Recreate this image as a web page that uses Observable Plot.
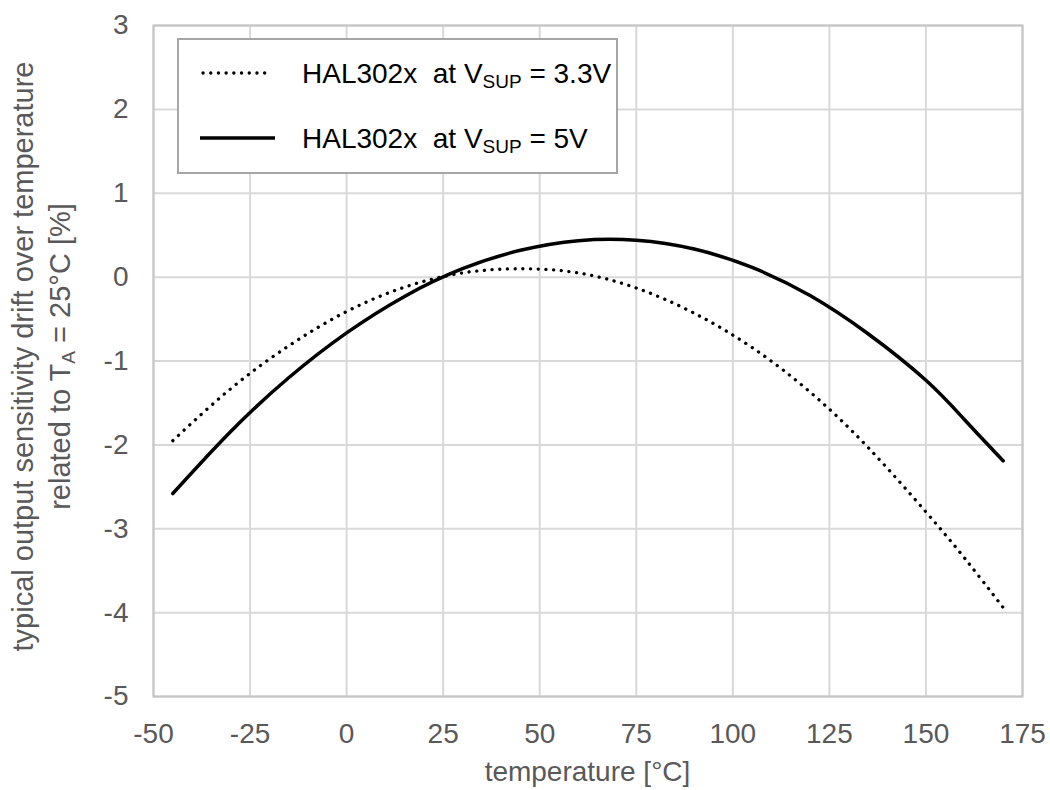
<!DOCTYPE html>
<html><head><meta charset="utf-8">
<script src="https://cdn.jsdelivr.net/npm/d3@7"></script>
<script src="https://cdn.jsdelivr.net/npm/@observablehq/plot@0.6"></script>
<style>body{margin:0;background:#fff;}</style>
</head><body><div id="chart"></div>
<script>
// Data
const temps     = [-45, -30, -15, 0, 15, 30, 45, 60, 75, 90, 105, 120, 135, 150, 160, 170];
const drift5V   = [-2.58, -1.84, -1.20, -0.665, -0.23, 0.10, 0.32, 0.435, 0.44, 0.335, 0.115, -0.22, -0.675, -1.23, -1.70, -2.19];
const drift33V  = [-1.95, -1.33, -0.82, -0.41, -0.12, 0.05, 0.10, 0.05, -0.13, -0.43, -0.84, -1.37, -2.03, -2.80, -3.35, -3.94];
const xTicks = [-50, -25, 0, 25, 50, 75, 100, 125, 150, 175];
const yTicks = [-5, -4, -3, -2, -1, 0, 1, 2, 3];
const legendLabels = [
  {pre: "HAL302x  at V", sub: "SUP", post: " = 3.3V"},
  {pre: "HAL302x  at V", sub: "SUP", post: " = 5V"}
];
const xLabel = "temperature [°C]";
const yLabel1 = "typical output sensitivity drift over temperature";
const yLabel2 = {pre: "related to T", sub: "A", post: " = 25°C [%]"};

const data5V = temps.map((t, i) => ({t, v: drift5V[i]}));
const data33V = temps.map((t, i) => ({t, v: drift33V[i]}));

const FONT = "'Liberation Sans', Arial, sans-serif";
const W = 1050, H = 790;
const mL = 153, mR = 28, mT = 25, mB = 94;

const plot = Plot.plot({
  width: W, height: H,
  marginLeft: mL, marginRight: mR, marginTop: mT, marginBottom: mB,
  style: {fontFamily: FONT, fontSize: "28px", color: "#595959", background: "#fff"},
  x: {domain: [-50, 175]},
  y: {domain: [-5, 3]},
  marks: [
    Plot.gridX(xTicks, {stroke: "#d9d9d9", strokeOpacity: 1, strokeWidth: 2}),
    Plot.gridY(yTicks, {stroke: "#d9d9d9", strokeOpacity: 1, strokeWidth: 2}),
    Plot.frame({stroke: "#c4c4c4", strokeWidth: 2}),
    Plot.line(data33V, {x: "t", y: "v", curve: "natural", stroke: "#000", strokeWidth: 3.3,
      strokeDasharray: "0.1,7.6", strokeLinecap: "round"}),
    Plot.line(data5V, {x: "t", y: "v", curve: "natural", stroke: "#000", strokeWidth: 3.5}),
    Plot.axisX(xTicks, {tickSize: 0, tickPadding: 27, tickFormat: d => String(d), fill: "#595959", label: null}),
    Plot.axisY(yTicks, {tickSize: 0, tickPadding: 25, tickFormat: d => String(d), fill: "#595959", label: null})
  ]
});
document.getElementById("chart").appendChild(plot);

const svg = d3.select(plot);

// X axis title
svg.append("text")
  .attr("x", (mL + W - mR) / 2).attr("y", 781)
  .attr("text-anchor", "middle").attr("fill", "#595959")
  .style("font-family", FONT).style("font-size", "28px")
  .text(xLabel);

// Y axis title (two lines, rotated)
const yc = (mT + (H - mB)) / 2 - 4;
svg.append("text")
  .attr("transform", `translate(33,${yc}) rotate(-90)`)
  .attr("text-anchor", "middle").attr("fill", "#595959")
  .style("font-family", FONT).style("font-size", "29px")
  .text(yLabel1);
const t2 = svg.append("text")
  .attr("transform", `translate(70,${yc}) rotate(-90)`)
  .attr("text-anchor", "middle").attr("fill", "#595959")
  .style("font-family", FONT).style("font-size", "29px");
t2.append("tspan").text(yLabel2.pre);
t2.append("tspan").attr("dy", 5).style("font-size", "19px").text(yLabel2.sub);
t2.append("tspan").attr("dy", -5).text(yLabel2.post);

// Legend
const lg = svg.append("g");
lg.append("rect").attr("x", 178).attr("y", 39).attr("width", 439).attr("height", 134)
  .attr("fill", "#fff").attr("stroke", "#a6a6a6").attr("stroke-width", 2);
const rows = [
  {y: 73, dash: "0.1,7.6", w: 3.3, x1: 203, x2: 268},
  {y: 138, dash: null, w: 3.5, x1: 200, x2: 275}
];
rows.forEach((r, i) => {
  const ln = lg.append("line").attr("x1", r.x1).attr("x2", r.x2).attr("y1", r.y).attr("y2", r.y)
    .attr("stroke", "#000").attr("stroke-width", r.w);
  if (r.dash) ln.attr("stroke-dasharray", r.dash).attr("stroke-linecap", "round");
  const tx = lg.append("text").attr("x", 302).attr("y", r.y + 10).attr("fill", "#000")
    .attr("text-anchor", "start")
    .style("font-family", FONT).style("font-size", "28px").style("white-space", "pre");
  tx.append("tspan").text(legendLabels[i].pre);
  tx.append("tspan").attr("dy", 5).style("font-size", "19px").text(legendLabels[i].sub);
  tx.append("tspan").attr("dy", -5).text(legendLabels[i].post);
});
</script>
</body></html>
